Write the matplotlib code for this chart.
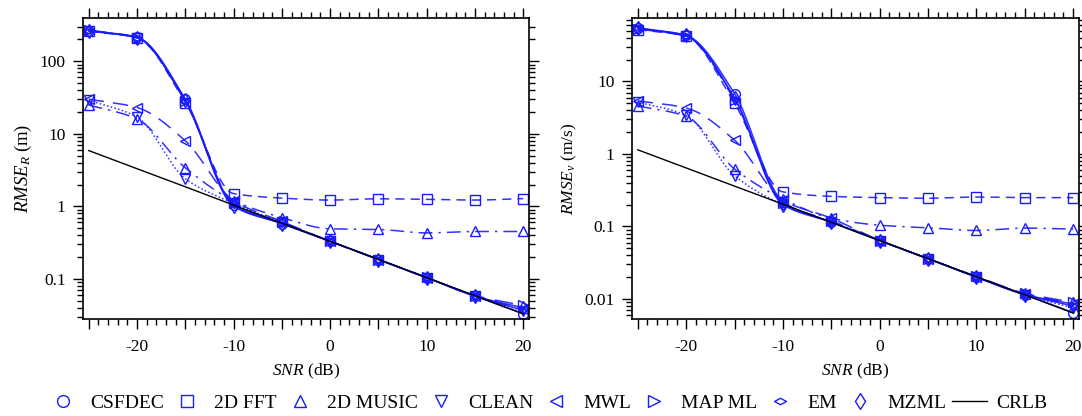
import numpy as np
import matplotlib
matplotlib.use("Agg")
import matplotlib.pyplot as plt
from matplotlib.lines import Line2D
from matplotlib.path import Path
from matplotlib.ticker import MultipleLocator, LogLocator, NullFormatter, FixedLocator, FixedFormatter

plt.rcParams['font.family'] = ['Liberation Serif', 'DejaVu Serif']
plt.rcParams['mathtext.fontset'] = 'custom'
plt.rcParams['mathtext.rm'] = 'Liberation Serif'
plt.rcParams['mathtext.it'] = 'Liberation Serif:italic'

snr = [-25, -20, -15, -10, -5, 0, 5, 10, 15, 20]
methods = ["CSFDEC", "2D FFT", "2D MUSIC", "CLEAN", "MWL", "MAP ML", "EM", "MZML"]

# Range RMSE (m)
range_csfdec = [265, 215, 30, 1.05, 0.58, 0.33, 0.185, 0.104, 0.058, 0.033]
range_fft = [260, 210, 27, 1.5, 1.3, 1.22, 1.27, 1.25, 1.22, 1.28]
range_music = [25, 16, 3.4, 1.2, 0.7, 0.49, 0.48, 0.43, 0.45, 0.45]
range_clean = [29, 17, 2.4, 1.1, 0.6, 0.33, 0.185, 0.104, 0.058, 0.036]
range_mwl = [30, 23, 8.0, 1.2, 0.62, 0.33, 0.185, 0.104, 0.058, 0.038]
range_mapml = [270, 210, 28, 1.1, 0.6, 0.33, 0.185, 0.105, 0.059, 0.043]
range_em = [262, 212, 28, 1.05, 0.58, 0.33, 0.185, 0.104, 0.058, 0.037]
range_mzml = [265, 212, 29, 1.0, 0.58, 0.33, 0.185, 0.104, 0.058, 0.040]
range_crlb = [5.87, 3.30, 1.86, 1.04, 0.587, 0.33, 0.186, 0.104, 0.0587, 0.033]

# Velocity RMSE (m/s)
vel_csfdec = [55, 43, 6.8, 0.22, 0.115, 0.064, 0.036, 0.020, 0.0115, 0.0065]
vel_fft = [52, 42, 5.0, 0.30, 0.26, 0.25, 0.245, 0.255, 0.25, 0.25]
vel_music = [4.6, 3.3, 0.62, 0.24, 0.13, 0.104, 0.096, 0.088, 0.095, 0.092]
vel_clean = [5.2, 3.4, 0.50, 0.20, 0.115, 0.064, 0.036, 0.020, 0.0115, 0.0075]
vel_mwl = [5.4, 4.3, 1.55, 0.23, 0.13, 0.064, 0.036, 0.020, 0.0118, 0.0085]
vel_mapml = [53, 42, 5.5, 0.21, 0.12, 0.064, 0.036, 0.0205, 0.012, 0.009]
vel_em = [54, 42, 5.8, 0.21, 0.115, 0.064, 0.036, 0.020, 0.0115, 0.008]
vel_mzml = [54, 43, 5.9, 0.20, 0.115, 0.064, 0.036, 0.020, 0.0115, 0.0085]
vel_crlb = [1.14, 0.641, 0.36, 0.203, 0.114, 0.064, 0.036, 0.0203, 0.0114, 0.0064]

range_series = [range_csfdec, range_fft, range_music, range_clean, range_mwl, range_mapml, range_em, range_mzml]
vel_series = [vel_csfdec, vel_fft, vel_music, vel_clean, vel_mwl, vel_mapml, vel_em, vel_mzml]

blue = '#1a1aff'
em_marker = Path([(-1, 0), (0, 0.55), (1, 0), (0, -0.55), (-1, 0)],
                 [Path.MOVETO, Path.LINETO, Path.LINETO, Path.LINETO, Path.CLOSEPOLY])
markers = ['o', 's', '^', 'v', '<', '>', em_marker, 'd']
msizes = [7, 6.5, 7, 7, 7, 7, 7, 7]
styles = ['-', (0, (6, 4)), (0, (9, 4, 1.5, 4)), (0, (1, 1.5)), (0, (10, 6)), (0, (12, 7)), '-', '-']


def pchip(x, y, xn):
    x = np.asarray(x, float); y = np.asarray(y, float)
    h = np.diff(x); d = np.diff(y) / h
    m = np.zeros_like(y)
    for k in range(1, len(x) - 1):
        if d[k - 1] * d[k] > 0:
            w1 = 2 * h[k] + h[k - 1]; w2 = h[k] + 2 * h[k - 1]
            m[k] = (w1 + w2) / (w1 / d[k - 1] + w2 / d[k])
    m[0] = d[0]; m[-1] = d[-1]
    idx = np.clip(np.searchsorted(x, xn) - 1, 0, len(x) - 2)
    t = (xn - x[idx]) / h[idx]
    h00 = 2 * t**3 - 3 * t**2 + 1; h10 = t**3 - 2 * t**2 + t
    h01 = -2 * t**3 + 3 * t**2; h11 = t**3 - t**2
    return h00 * y[idx] + h10 * h[idx] * m[idx] + h01 * y[idx + 1] + h11 * h[idx] * m[idx + 1]


fig = plt.figure(figsize=(10.82, 4.16), dpi=100)
ax1 = fig.add_axes([0.0767, 0.2332, 0.4122, 0.7236])
ax2 = fig.add_axes([0.5841, 0.2332, 0.4131, 0.7236])

xf = np.linspace(snr[0], snr[-1], 400)

for ax, series, crlb, ylim, ylab, yt, ytl, ylfs in [
        (ax1, range_series, range_crlb, (0.028, 395), r'$\mathit{RMSE}_R$ (m)',
         [0.1, 1, 10, 100], ['0.1', '1', '10', '100'], 13.5),
        (ax2, vel_series, vel_crlb, (0.0053, 75), r'$\mathit{RMSE}_v$ (m/s)',
         [0.01, 0.1, 1, 10], ['0.01', '0.1', '1', '10'], 12.5)]:
    for vals, mk, ms, ls in zip(series, markers, msizes, styles):
        yf = 10 ** pchip(snr, np.log10(vals), xf)
        ax.plot(xf, yf, color=blue, lw=1.1, ls=ls, alpha=0.9)
        ax.plot(snr, vals, ls='none', marker=mk, ms=ms, mfc='none', mec=blue, mew=1.0)
    ax.plot(snr, crlb, color='black', lw=1.0)
    ax.set_yscale('log')
    ax.set_xlim(-25.6, 20.6)
    ax.set_ylim(*ylim)
    ax.xaxis.set_minor_locator(MultipleLocator(1))
    ax.set_xticks([-25, -20, -15, -10, -5, 0, 5, 10, 15, 20])
    ax.set_xticklabels(['', '-20', '', '-10', '', '0', '', '10', '', '20'])
    ax.yaxis.set_major_locator(FixedLocator(yt))
    ax.yaxis.set_major_formatter(FixedFormatter(ytl))
    ax.yaxis.set_minor_locator(LogLocator(base=10, subs=np.arange(2, 10)))
    ax.yaxis.set_minor_formatter(NullFormatter())
    ax.tick_params(which='both', direction='out', top=True, right=True, labelsize=12.5, width=1.0)
    ax.tick_params(which='major', length=7)
    ax.tick_params(which='minor', length=4)
    ax.tick_params(axis='x', which='major', pad=7.5)
    ax.tick_params(axis='y', which='major', pad=5.5)
    for sp in ax.spines.values():
        sp.set_linewidth(1.2)
    ax.set_xlabel(r'$\mathit{SNR}$ (dB)', fontsize=12.5, labelpad=5)
    ax.set_ylabel(ylab, fontsize=ylfs, labelpad=4)

handles = [Line2D([], [], ls='none', marker=mk, ms=8.5, mfc='none', mec=blue, mew=1.0)
           for mk in markers]
handles.append(Line2D([], [], color='black', lw=1.0))
labels = methods + ['CRLB']
fig.legend(handles, labels, loc='center', bbox_to_anchor=(0.505, 0.031), ncol=9,
           frameon=False, fontsize=14, handlelength=1.8, handletextpad=0.5,
           columnspacing=0.28, borderpad=0)

fig.savefig('out.png', dpi=100)
